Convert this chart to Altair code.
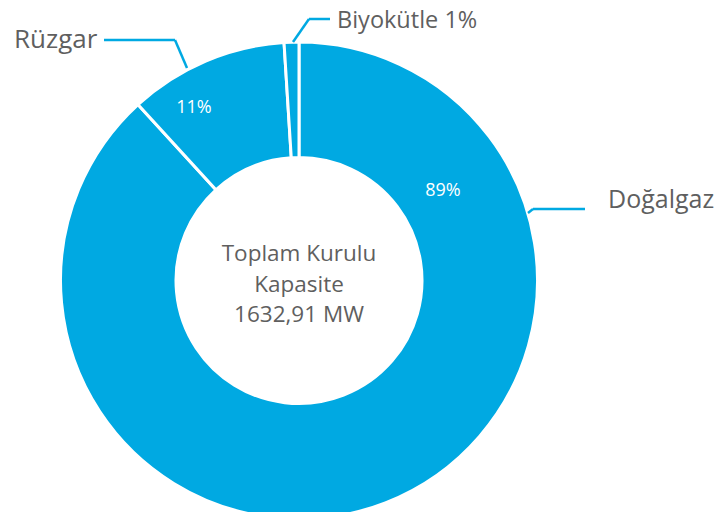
import altair as alt
import pandas as pd

# ---- data ----
categories = ["Doğalgaz", "Rüzgar", "Biyokütle"]
shares = [88.2, 10.8, 1.0]
pct_labels = ["89%", "11%", ""]
outer_labels = ["Doğalgaz", "Rüzgar", "Biyokütle 1%"]
center_lines = ["Toplam Kurulu", "Kapasite", "1632,91 MW"]

# ---- layout (chart pixel coordinates, plot origin at page (8,8)) ----
W, H = 709, 504
CX, CY = 291, 272.5
R_OUT, R_IN = 238.5, 123
BLUE = "#00A9E2"
GREY = "#5f5f5f"
FONT = "Open Sans"

pie_df = pd.DataFrame({"cat": categories, "val": shares,
                       "order": list(range(len(categories)))})

donut = alt.Chart(pie_df).mark_arc(
    outerRadius=R_OUT, innerRadius=R_IN, stroke="white", strokeWidth=3,
    color=BLUE,
).encode(
    theta=alt.Theta("val:Q", stack=True),
    order=alt.Order("order:Q"),
    x=alt.value(CX), y=alt.value(CY),
)

# percentage labels inside ring
pct_pos = {"89%": (435, 183), "11%": (186, 100)}
pct_df = pd.DataFrame({
    "t": [p for p in pct_labels if p],
    "px": [pct_pos[p][0] for p in pct_labels if p],
    "py": [pct_pos[p][1] for p in pct_labels if p],
})
pct = alt.Chart(pct_df).mark_text(
    font=FONT, fontSize=18, color="white", baseline="middle", align="center"
).encode(
    text="t:N",
    x=alt.X("px:Q", scale=None), y=alt.Y("py:Q", scale=None),
)

# outer labels
lab_pos = {"Doğalgaz": (600, 200, 25), "Rüzgar": (6, 40, 26), "Biyokütle 1%": (329, 20, 23.5)}
lab_df = pd.DataFrame({
    "t": outer_labels,
    "px": [lab_pos[t][0] for t in outer_labels],
    "py": [lab_pos[t][1] for t in outer_labels],
    "fs": [lab_pos[t][2] for t in outer_labels],
})
labs = alt.Chart(lab_df).mark_text(
    font=FONT, color=GREY, baseline="alphabetic", align="left"
).encode(
    text="t:N",
    x=alt.X("px:Q", scale=None), y=alt.Y("py:Q", scale=None),
    size=alt.Size("fs:Q", scale=None, legend=None),
)

# leader lines
seg = pd.DataFrame({
    "x": [96, 167, 285, 301, 520, 525],
    "y": [32, 32, 34, 11, 205, 201],
    "x2": [167, 179, 301, 322, 525, 577],
    "y2": [32, 60, 11, 11, 201, 201],
})
leaders = alt.Chart(seg).mark_rule(color=BLUE, strokeWidth=2.5).encode(
    x=alt.X("x:Q", scale=None), y=alt.Y("y:Q", scale=None),
    x2="x2:Q", y2="y2:Q",
)

# center text
ctr_df = pd.DataFrame({"t": center_lines, "py": [253, 284, 314]})
ctr = alt.Chart(ctr_df).mark_text(
    font=FONT, fontSize=22.5, color=GREY, baseline="alphabetic", align="center"
).encode(
    text="t:N", x=alt.value(CX), y=alt.Y("py:Q", scale=None),
)

chart = alt.layer(donut, pct, leaders, labs, ctr).properties(
    width=W, height=H, padding=0, autosize=alt.AutoSizeParams(type="none"),
).configure_view(stroke=None)

chart.save("out.html", embed_options={"renderer": "svg", "actions": False})
